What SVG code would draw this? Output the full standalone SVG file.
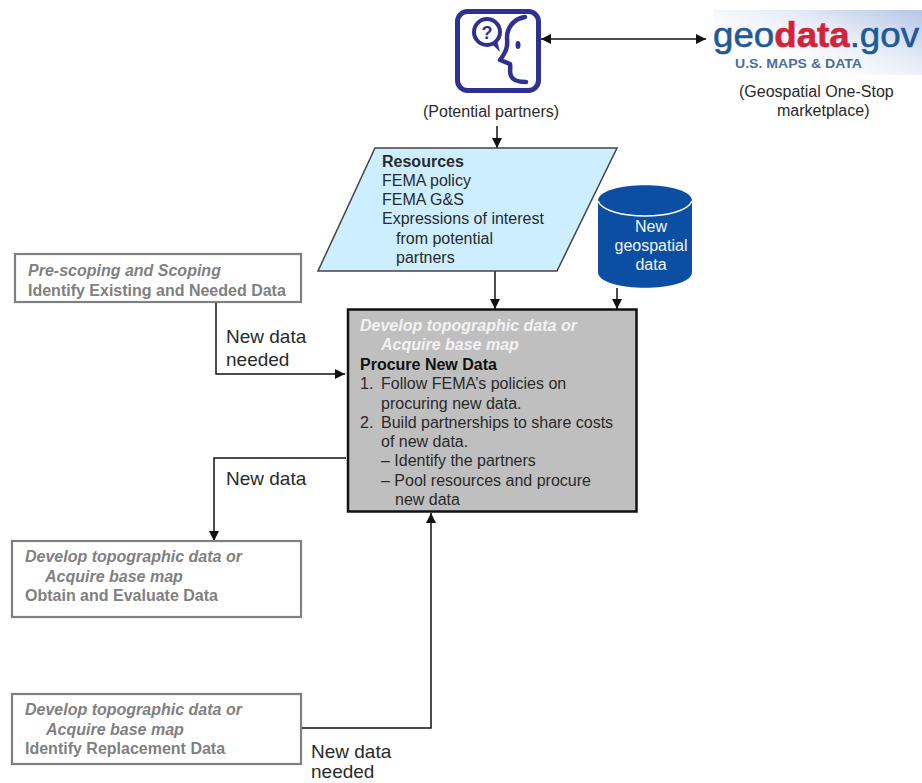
<svg xmlns="http://www.w3.org/2000/svg" width="922" height="783" viewBox="0 0 922 783">
<style>
text{font-family:"Liberation Sans",Arial,sans-serif;font-size:16px;fill:#2a2a2a}
.b{font-weight:bold}
.bi{font-weight:bold;font-style:italic}
.g text{fill:#808080;font-size:16px}
.lab{font-size:19px}
.w{fill:#f4f6fa;text-anchor:middle}
.box{fill:#fff;stroke:#808080;stroke-width:2.2}
.c{fill:none;stroke:#111;stroke-width:1.5}
.ink{fill:none;stroke:#2e3192;stroke-linecap:round;stroke-linejoin:round}
</style>
<defs>
<marker id="a" markerWidth="11" markerHeight="10" refX="10" refY="5" orient="auto-start-reverse" markerUnits="userSpaceOnUse"><path d="M0 0L10 5L0 10Z" fill="#111"/></marker>
<linearGradient id="sky" x1="0" x2="1" y1="0.8" y2="0"><stop offset="0.25" stop-color="#fff"/><stop offset="0.6" stop-color="#e6ebf6"/><stop offset="1" stop-color="#b5c6e8"/></linearGradient>
</defs>
<g id="connectors">
<path class="c" d="M541 39H706" marker-start="url(#a)" marker-end="url(#a)"/>
<path class="c" d="M497 126V148" marker-end="url(#a)"/>
<path class="c" d="M495 271V309" marker-end="url(#a)"/>
<path class="c" d="M617 288V309" marker-end="url(#a)"/>
<path class="c" d="M216 303V374H345" marker-end="url(#a)"/>
<path class="c" d="M346 458H214V541" marker-end="url(#a)"/>
<path class="c" d="M301 728H431V513" marker-end="url(#a)"/>
</g>
<g id="partners">
<rect x="457.500" y="11.500" width="81" height="79" rx="10" fill="#fff" stroke="#2e3192" stroke-width="5"/>
<circle class="ink" cx="487" cy="32" r="13" stroke-width="4"/>
<path d="M491 43L500 52L497 40Z" fill="#2e3192"/>
<text x="487" y="39" text-anchor="middle" class="b" style="fill:#2e3192;font-size:18px">?</text>
<path class="ink" stroke-width="4.500" d="M525 17C513 19 507 28 507 38C508 47 506 52 500 60L510 64C511 68 509 72 511 76C513 81 520 82 526 82"/>
<ellipse cx="518" cy="45" rx="2.500" ry="4" fill="#2e3192"/>
<text x="423" y="117">(Potential partners)</text>
</g>
<g id="geodata">
<rect x="713" y="10" width="209" height="65" fill="url(#sky)"/>
<text x="713" y="47" textLength="206" lengthAdjust="spacingAndGlyphs" style="font-size:35px;fill:#1f5a96;stroke:#1f5a96;stroke-width:.6"><tspan>geo</tspan><tspan style="fill:#d2233c;stroke:#d2233c;font-weight:bold">data</tspan><tspan>.gov</tspan></text>
<text x="735" y="68" class="b" style="font-size:13px;fill:#4a6f9c" textLength="127" lengthAdjust="spacingAndGlyphs">U.S. MAPS &amp; DATA</text>
<text x="739" y="97">(Geospatial One-Stop</text>
<text x="777" y="116">marketplace)</text>
</g>
<g id="resources">
<path d="M375 148H617L557 271H318Z" fill="#cceeff" stroke="#444" stroke-width="1.500"/>
<text x="382" y="167" class="b">Resources</text>
<text x="382" y="186">FEMA policy</text>
<text x="382" y="205">FEMA G&amp;S</text>
<text x="382" y="224">Expressions of interest</text>
<text x="396" y="244">from potential</text>
<text x="396" y="263">partners</text>
</g>
<g id="new-geospatial-data">
<path d="M598 201C598 180 692 180 692 201V272C692 293 598 293 598 272Z" fill="#0b4ea2"/>
<path d="M598 201C606 221 684 221 692 201" fill="none" stroke="#fff" stroke-width="1.500"/>
<text x="651" y="232" class="w">New</text>
<text x="651" y="251" class="w">geospatial</text>
<text x="651" y="270" class="w">data</text>
</g>
<g id="procure">
<rect x="348" y="309.500" width="288.500" height="202" fill="#bfbfbf" stroke="#111" stroke-width="2.500"/>
<text x="360" y="331" class="bi" style="fill:#f2f2f2">Develop topographic data or</text>
<text x="381" y="350" class="bi" style="fill:#f2f2f2">Acquire base map</text>
<text x="360" y="370" class="b" style="fill:#111">Procure New Data</text>
<text x="360" y="389">1.</text><text x="381" y="389">Follow FEMA’s policies on</text>
<text x="381" y="409">procuring new data.</text>
<text x="360" y="428">2.</text><text x="381" y="428">Build partnerships to share costs</text>
<text x="381" y="447">of new data.</text>
<text x="381" y="466">– Identify the partners</text>
<text x="381" y="486">– Pool resources and procure</text>
<text x="395" y="505">new data</text>
</g>
<g id="prescoping" class="g">
<rect class="box" x="15" y="254" width="286" height="48"/>
<text x="28" y="276" class="bi">Pre-scoping and Scoping</text>
<text x="28" y="296" class="b">Identify Existing and Needed Data</text>
</g>
<g id="obtain" class="g">
<rect class="box" x="12" y="541" width="289" height="76"/>
<text x="25" y="562" class="bi">Develop topographic data or</text>
<text x="45" y="582" class="bi">Acquire base map</text>
<text x="25" y="601" class="b">Obtain and Evaluate Data</text>
</g>
<g id="replacement" class="g">
<rect class="box" x="12" y="694" width="289" height="70"/>
<text x="25" y="715" class="bi">Develop topographic data or</text>
<text x="46" y="735" class="bi">Acquire base map</text>
<text x="25" y="754" class="b">Identify Replacement Data</text>
</g>
<g id="labels">
<text x="226" y="343" class="lab">New data</text>
<text x="226" y="366" class="lab">needed</text>
<text x="226" y="485" class="lab">New data</text>
<text x="311" y="758" class="lab">New data</text>
<text x="311" y="778" class="lab">needed</text>
</g>
</svg>
